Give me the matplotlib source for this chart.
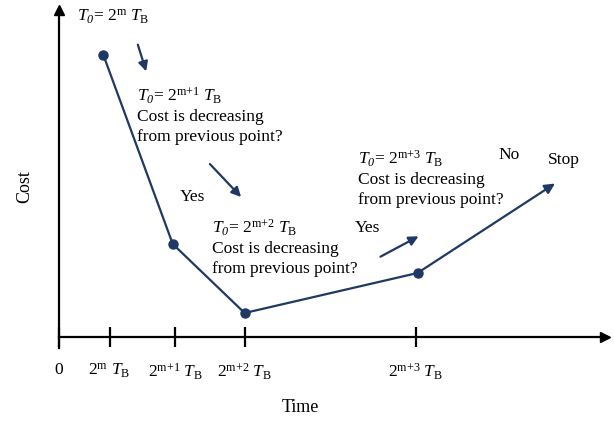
import matplotlib.pyplot as plt

plt.rcParams['font.family'] = ['Liberation Serif', 'DejaVu Serif']
plt.rcParams['mathtext.fontset'] = 'custom'
plt.rcParams['mathtext.rm'] = 'Liberation Serif'
plt.rcParams['mathtext.it'] = 'Liberation Serif:italic'
plt.rcParams['mathtext.sf'] = 'Liberation Serif:italic'  # used for the italic subscript 0

# data (time in units of the first tick spacing, cost in arbitrary units)
tick_times = [0, 1.0, 2.29, 3.65, 7.0]
tick_labels = ['0', r'2$^{\mathrm{m}}$ $T_{\mathrm{B}}$', r'2$^{\mathrm{m{+}1}}$ $T_{\mathrm{B}}$',
               r'2$^{\mathrm{m{+}2}}$ $T_{\mathrm{B}}$', r'2$^{\mathrm{m{+}3}}$ $T_{\mathrm{B}}$']
point_times = [0.88, 2.24, 3.65, 7.04]
point_costs = [282, 93, 24, 64]
stop_time = 9.78
stop_cost = 155

navy = '#1f3864'
W, H = 614, 422
fig = plt.figure(figsize=(W / 100, H / 100), dpi=100)
ax = fig.add_axes([58.5 / W, (H - 348) / H, (605 - 58.5) / W, 338 / H])
ax.set_xlim(0, (605 - 58.5) / 51)
ax.set_ylim(-11, 327)

for s in ['top', 'right']:
    ax.spines[s].set_visible(False)
ax.spines['bottom'].set_position(('data', 0))
ax.spines['left'].set_linewidth(1.6)
ax.spines['bottom'].set_linewidth(1.6)
ax.plot(1, 0, '>', color='black', ms=7, transform=ax.get_yaxis_transform(), clip_on=False)
ax.plot(0, 1, '^', color='black', ms=7, transform=ax.get_xaxis_transform(), clip_on=False)

ax.set_xticks(tick_times)
ax.set_xticklabels(tick_labels, fontsize=12.5)
ax.tick_params(axis='x', direction='inout', length=14, width=1.6, pad=11)
ax.set_yticks([])

# cost curve
ax.plot(point_times, point_costs, color=navy, lw=1.6, marker='o', ms=6.5)
ax.annotate('', xy=(stop_time, stop_cost), xytext=(point_times[-1], point_costs[-1]),
            arrowprops=dict(arrowstyle='-|>', color=navy, lw=1.6, mutation_scale=15))


def px(x, y):
    return ((x - 58.5) / 51, 337 - y)


def arrow(x0, y0, x1, y1):
    ax.annotate('', xy=px(x1, y1), xytext=px(x0, y0),
                arrowprops=dict(arrowstyle='-|>', color=navy, lw=1.6, mutation_scale=14))


arrow(137, 42, 147, 74)
arrow(208, 162, 243, 199)
arrow(378, 258, 421, 235)

fs = 12.5
t0 = r'$T_{\mathsf{0}}$= 2$^{\mathrm{%s}}$ $T_{\mathrm{B}}$'
q = 'Cost is decreasing\nfrom previous point?'


def block(x, y, sup):
    ax.text(*px(x, y), t0 % sup, fontsize=fs, va='center', ha='left')
    ax.text(*px(x, y + 31), q, fontsize=fs, va='center', ha='left', linespacing=1.38)


ax.text(*px(77, 17), t0 % 'm', fontsize=fs, va='center', ha='left')
block(137, 96, 'm{+}1')
block(212, 228, 'm{+}2')
block(358, 159, 'm{+}3')

ax.text(*px(180, 197), 'Yes', fontsize=fs, va='center', ha='left')
ax.text(*px(355, 228), 'Yes', fontsize=fs, va='center', ha='left')
ax.text(*px(498, 155), 'No', fontsize=fs, va='center', ha='left')
ax.text(*px(548, 160), 'Stop', fontsize=fs, va='center', ha='left')

fig.text(300 / W, 1 - 408 / H, 'Time', fontsize=13, ha='center', va='center')
fig.text(25 / W, 1 - 187 / H, 'Cost', fontsize=13, ha='center', va='center', rotation=90)

fig.savefig('out.png', dpi=100)
